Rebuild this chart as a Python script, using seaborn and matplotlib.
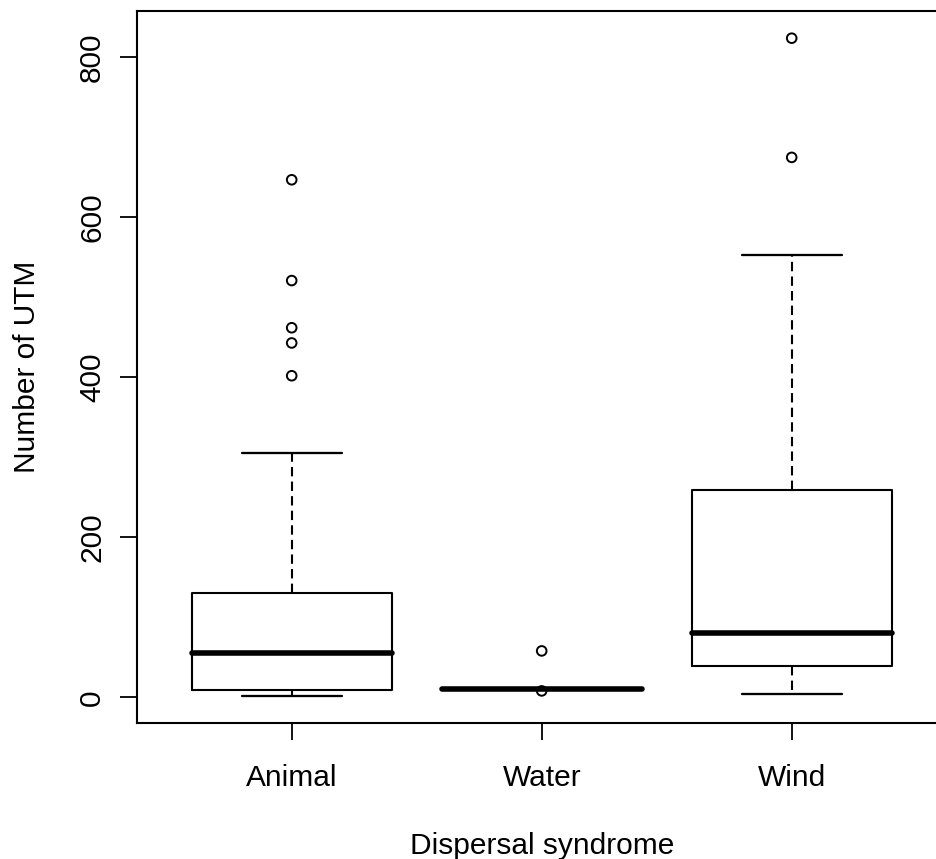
import matplotlib
matplotlib.use("Agg")
import matplotlib.pyplot as plt
import seaborn as sns
import pandas as pd

# ---- data ----
categories = ["Animal", "Water", "Wind"]
whisker_low = [2, 11, 4]
q1 = [9, 11, 39]
median = [55, 11, 80]
q3 = [130, 11, 259]
whisker_high = [306, 11, 553]
outliers_animal = [402, 443, 462, 521, 647]
outliers_water = [8, 58]
outliers_wind = [675, 824]
y_ticks = [0, 200, 400, 600, 800]

sns.set_style("white")
plt.rcParams["font.family"] = ["Liberation Sans", "DejaVu Sans"]

fig = plt.figure(figsize=(9.36, 8.59), dpi=100)
ax = fig.add_axes([136.7 / 936, 135.7 / 859, 810 / 936, (723.3 - 11) / 859])

positions = [1, 2, 3]
stats = []
for i, name in enumerate(categories):
    stats.append(dict(label=name, whislo=whisker_low[i], q1=q1[i], med=median[i],
                      q3=q3[i], whishi=whisker_high[i], fliers=[]))

lw = 1.5
ax.bxp(stats, positions=positions, widths=0.8, capwidths=0.4, showfliers=False,
       patch_artist=False,
       boxprops=dict(color="black", linewidth=lw),
       whiskerprops=dict(color="black", linewidth=lw, linestyle=(0, (4.5, 2.5))),
       capprops=dict(color="black", linewidth=lw * 1.1),
       medianprops=dict(color="black", linewidth=4.0, solid_capstyle="round", zorder=4))

out_df = pd.DataFrame({
    "pos": [1] * len(outliers_animal) + [2] * len(outliers_water) + [3] * len(outliers_wind),
    "value": outliers_animal + outliers_water + outliers_wind,
})
sns.scatterplot(data=out_df, x="pos", y="value", ax=ax, marker="o", s=48,
                facecolor="none", edgecolor="black", linewidth=1.4, zorder=3, legend=False)

ax.set_xlim(0.38, 3.62)
ax.set_ylim(-32.5, 858)
ax.set_xticks(positions)
ax.set_xticklabels(categories)
ax.set_yticks(y_ticks)
ax.set_yticklabels([str(v) for v in y_ticks], rotation=90, va="center")

fs = 21.5
ax.tick_params(axis="both", which="major", direction="out", length=12, width=1.3,
               color="black", labelsize=fs, labelcolor="black", bottom=True, left=True)
ax.tick_params(axis="x", pad=17)
ax.tick_params(axis="y", pad=10)

for sp in ax.spines.values():
    sp.set_color("black")
    sp.set_linewidth(1.5)
    sp.set_visible(True)

ax.set_xlabel("Dispersal syndrome", fontsize=fs, labelpad=29, color="black")
ax.set_ylabel("Number of UTM", fontsize=fs, labelpad=27, color="black")

fig.savefig("out.png", dpi=100)
